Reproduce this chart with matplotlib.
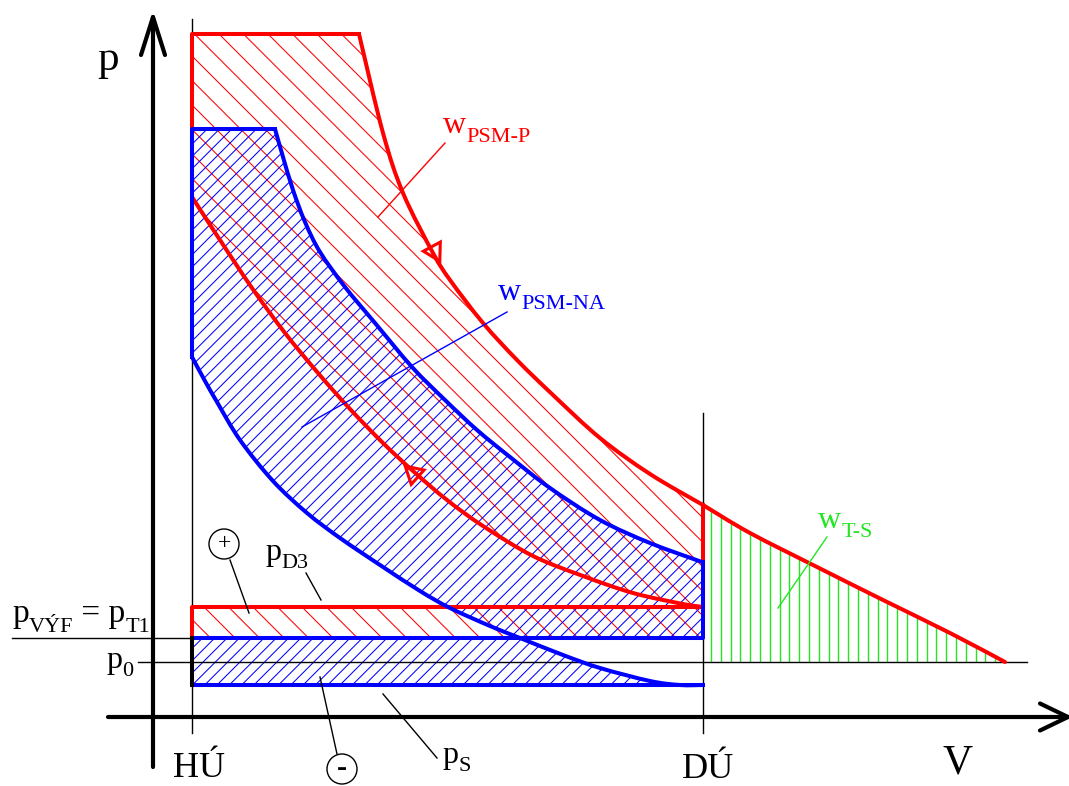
import numpy as np
import matplotlib
matplotlib.use("Agg")
import matplotlib.pyplot as plt
import matplotlib.transforms as mtransforms
from matplotlib.collections import LineCollection
from matplotlib.patches import Polygon, Circle, PathPatch
from matplotlib.path import Path

# ---------------- data (V, p in arbitrary units) ----------------
V_HU = 0.39          # top dead centre (HÚ)
V_DU = 5.50          # bottom dead centre (DÚ)
p_0 = 0.55           # ambient pressure
p_VYF = 0.79         # exhaust pressure = turbine inlet pressure
p_D3 = 1.10          # boost pressure
p_S = 0.32           # intake pressure (naturally aspirated)

# supercharged cycle (red)
red_top_p = 6.83
red_corner_V = 2.06
red_exp_V = [2.06, 2.30, 2.50, 2.80, 2.97, 3.30, 3.64, 4.00, 4.47, 4.97, 5.50]
red_exp_p = [6.83, 5.84, 5.24, 4.64, 4.37, 3.94, 3.57, 3.22, 2.79, 2.43, 2.12]
red_turb_V = [5.50, 5.97, 6.64, 7.30, 7.97, 8.52]
red_turb_p = [2.12, 1.84, 1.50, 1.17, 0.84, 0.55]
red_comp_V = [0.39, 0.65, 0.99, 1.32, 1.65, 1.97, 2.30, 2.60, 2.94, 3.30, 3.80, 4.30, 4.80, 5.30, 5.50]
red_comp_p = [5.20, 4.80, 4.29, 3.84, 3.44, 3.08, 2.74, 2.46, 2.17, 1.91, 1.61, 1.41, 1.24, 1.13, 1.10]

# naturally aspirated cycle (blue)
blue_top_p = 5.88
blue_corner_V = 1.22
blue_exp_V = [1.22, 1.30, 1.40, 1.52, 1.67, 1.92, 2.22, 2.59, 2.92, 3.24, 3.57, 3.97, 4.47, 4.97, 5.49]
blue_exp_p = [5.88, 5.60, 5.27, 4.95, 4.65, 4.30, 3.94, 3.50, 3.17, 2.87, 2.60, 2.29, 1.97, 1.74, 1.55]
blue_comp_V = [0.39, 0.52, 0.64, 0.87, 1.20, 1.54, 1.87, 2.27, 2.67, 2.97, 3.37, 3.67, 4.10, 4.47, 4.97, 5.27, 5.50]
blue_comp_p = [3.60, 3.36, 3.15, 2.77, 2.36, 2.04, 1.79, 1.52, 1.26, 1.09, 0.91, 0.79, 0.62, 0.49, 0.36, 0.32, 0.32]

# direction arrows on the red cycle
arrow_V = [2.81, 2.60]
arrow_p = [4.66, 2.44]

RED = "#ff0000"
BLUE = "#0000ff"
GREEN = "#22e622"
FONT = "Liberation Serif"

# ---------------- figure ----------------
W, H, DPI = 1069, 786, 100
fig = plt.figure(figsize=(W / DPI, H / DPI), dpi=DPI)
ax = fig.add_axes([0, 0, 1, 1])
ax.set_xlim(-1.53, -1.53 + W / 100)
ax.set_ylim(7.17 - H / 100, 7.17)
ax.axis("off")


def smooth_path(xs, ys):
    """Catmull-Rom curve through the given points, as cubic Bezier path."""
    P = np.column_stack([xs, ys]).astype(float)
    n = len(P)
    verts = [P[0]]
    codes = [Path.MOVETO]
    for i in range(n - 1):
        p0 = P[i - 1] if i > 0 else P[i]
        p1, p2 = P[i], P[i + 1]
        p3 = P[i + 2] if i + 2 < n else P[i + 1]
        verts += [p1 + (p2 - p0) / 6.0, p2 - (p3 - p1) / 6.0, p2]
        codes += [Path.CURVE4] * 3
    return Path(verts, codes)


def curve(xs, ys, color, lw, z):
    ax.add_patch(PathPatch(smooth_path(xs, ys), fill=False, edgecolor=color, lw=lw,
                           zorder=z, capstyle="round", joinstyle="round"))


def hatch(poly_xy, slope, spacing, color, lw=0.75, clip=None, vertical=False, phase=0.0):
    poly = Polygon(poly_xy, closed=True, fill=False, edgecolor="none", transform=ax.transData)
    ax.add_patch(poly)
    segs = []
    if vertical:
        for v in np.arange(phase, 10, spacing):
            segs.append([(v, -2), (v, 9)])
    else:
        for c in np.arange(-20 + phase, 20, spacing):
            segs.append([(-3, c + slope * -3), (11, c + slope * 11)])
    lc = LineCollection(segs, colors=color, linewidths=lw, zorder=1)
    ax.add_collection(lc)
    lc.set_clip_path(poly)
    if clip is not None:
        lc.set_clip_box(mtransforms.TransformedBbox(
            mtransforms.Bbox.from_extents(*clip), ax.transData))
    return lc


# red loop region
red_loop = ([(V_HU, red_top_p)] + list(zip(red_exp_V, red_exp_p)) +
            [(V_DU, p_D3)] + list(zip(red_comp_V, red_comp_p))[::-1])
hatch(red_loop, -1, 0.245, RED, phase=0.05)
# red "+" pumping region
red_plus = [(V_HU, p_VYF), (V_DU, p_VYF), (V_DU, p_D3), (V_HU, p_D3)]
hatch(red_plus, -1, 0.245, RED, phase=0.05)

# blue loop region (above p_VYF) and negative pumping region (below p_VYF)
blue_loop = ([(V_HU, blue_top_p)] + list(zip(blue_exp_V, blue_exp_p)) +
             [(V_DU, p_S)] + list(zip(blue_comp_V, blue_comp_p))[::-1])
hatch(blue_loop, 1, 0.123, BLUE, clip=(-2, p_VYF, 10, 9))
blue_minus = [(V_HU, p_S)] + list(zip(blue_comp_V, blue_comp_p)) + [(V_DU, p_S)]
hatch(blue_minus, 1, 0.123, BLUE, clip=(-2, -2, 10, p_VYF))

# green turbine region
green_reg = [(V_DU, p_0)] + list(zip(red_turb_V, red_turb_p))
hatch(green_reg, 0, 0.098, GREEN, lw=1.0, vertical=True, phase=5.58 - 0.098 * 57)

# ---------------- thin black reference lines ----------------
thin = dict(color="black", lw=1.0, zorder=2)
ax.plot([V_HU, V_HU], [-0.16, 6.98], **thin)
ax.plot([V_DU, V_DU], [-0.16, 3.04], **thin)
ax.plot([-0.15, 8.74], [p_0, p_0], **thin)
ax.plot([-1.41, V_HU], [p_VYF, p_VYF], **thin)

# ---------------- axes with open arrows ----------------
ax_kw = dict(color="black", lw=3.0, zorder=5, solid_capstyle="round")
ax.plot([0, 0], [-0.50, 7.00], **ax_kw)
ax.plot([-0.12, 0, 0.12], [6.62, 7.00, 6.62], **ax_kw)
ax.plot([-0.45, 9.15], [0, 0], **ax_kw)
ax.plot([8.87, 9.15, 8.87], [0.135, 0, -0.135], **ax_kw)

# ---------------- cycle lines ----------------
thick = 2.9
rk = dict(color=RED, lw=thick, zorder=3, solid_joinstyle="round")
ax.plot([V_HU, V_HU, red_corner_V], [red_comp_p[0], red_top_p, red_top_p], **rk)
curve(red_exp_V, red_exp_p, RED, thick, 3)
curve(red_turb_V, red_turb_p, RED, thick, 3)
ax.plot([V_DU, V_DU], [red_exp_p[-1], p_D3], **rk)
ax.plot([V_DU, V_HU, V_HU], [p_D3, p_D3, p_VYF], **rk)
curve(red_comp_V, red_comp_p, RED, thick, 3)

bk = dict(color=BLUE, lw=thick, zorder=4, solid_joinstyle="round")
ax.plot([V_HU, V_HU, blue_corner_V], [blue_comp_p[0], blue_top_p, blue_top_p], **bk)
curve(blue_exp_V, blue_exp_p, BLUE, thick, 4)
ax.plot([V_DU, V_DU, V_HU], [blue_exp_p[-1], p_VYF, p_VYF], **bk)
ax.plot([V_HU, V_DU], [p_S, p_S], **bk)
curve(blue_comp_V, blue_comp_p, BLUE, thick, 4)
ax.plot([V_HU, V_HU], [p_VYF, p_S], color="black", lw=thick, zorder=4)

# arrows (hollow triangles) along the red curves
for (cv, cp), av, ap in zip([(red_exp_V, red_exp_p), (red_comp_V[::-1], red_comp_p[::-1])],
                            arrow_V, arrow_p):
    cv = np.asarray(cv); cp = np.asarray(cp)
    i = np.argmin(np.hypot(cv - av, cp - ap))
    i = min(max(i, 1), len(cv) - 2)
    ang = np.degrees(np.arctan2(cp[i + 1] - cp[i - 1], cv[i + 1] - cv[i - 1]))
    ax.plot([av], [ap], marker=(3, 0, ang - 90), markersize=16, markerfacecolor="none",
            markeredgecolor=RED, markeredgewidth=2.2, zorder=6)

# ---------------- text ----------------
renderer = fig.canvas.get_renderer()


def label(x, y, parts, color="black", size=23, subsize=16, drop=7.0):
    off = 0.0
    for s, is_sub in parts:
        tr = mtransforms.offset_copy(ax.transData, fig=fig, x=off,
                                     y=-drop if is_sub else 0, units="points")
        t = ax.text(x, y, s, transform=tr, fontsize=subsize if is_sub else size,
                    color=color, ha="left", va="baseline", family=FONT, zorder=7)
        off += t.get_window_extent(renderer).width * 72 / fig.dpi


label(-0.56, 6.47, [("p", False)], size=31)
label(7.89, -0.56, [("V", False)], size=30)
label(0.20, -0.60, [("HÚ", False)], size=26)
label(5.29, -0.61, [("DÚ", False)], size=26)
label(-1.41, 0.95, [("p", False), ("VÝF", True), (" = p", False), ("T1", True)], size=24)
label(-0.47, 0.49, [("p", False), ("0", True)], drop=6)
label(1.12, 1.57, [("p", False), ("D3", True)], drop=6)
label(2.89, -0.46, [("p", False), ("S", True)], drop=6)
label(2.90, 5.84, [("w", False), ("PSM-P", True)], color=RED, drop=6.5)
label(3.45, 4.17, [("w", False), ("PSM-NA", True)], color=BLUE, drop=6.5)
label(6.65, 1.89, [("w", False), ("T-S", True)], color=GREEN, drop=6.5)

# circled signs
for cx, cy, sign, fw, fs in [(0.71, 1.73, "+", "normal", 17), (1.89, -0.52, "-", "bold", 22)]:
    ax.add_patch(Circle((cx, cy), 0.15, fill=False, edgecolor="black", lw=1.0, zorder=7))
    ax.text(cx, cy, sign, ha="center", va="center", fontsize=fs, fontweight=fw,
            family=FONT, zorder=7)

# leader lines
lead = [((0.77, 1.57), (0.96, 1.04), "black"),
        ((1.84, -0.37), (1.67, 0.40), "black"),
        ((1.53, 1.44), (1.68, 1.17), "black"),
        ((2.30, 0.23), (2.84, -0.41), "black"),
        ((2.92, 5.74), (2.25, 5.00), RED),
        ((3.54, 4.05), (1.49, 2.90), BLUE),
        ((6.74, 1.80), (6.25, 1.09), GREEN)]
for (a, b, c) in lead:
    ax.plot([a[0], b[0]], [a[1], b[1]], color=c, lw=1.0, zorder=6)

fig.savefig("out.png", dpi=DPI)
